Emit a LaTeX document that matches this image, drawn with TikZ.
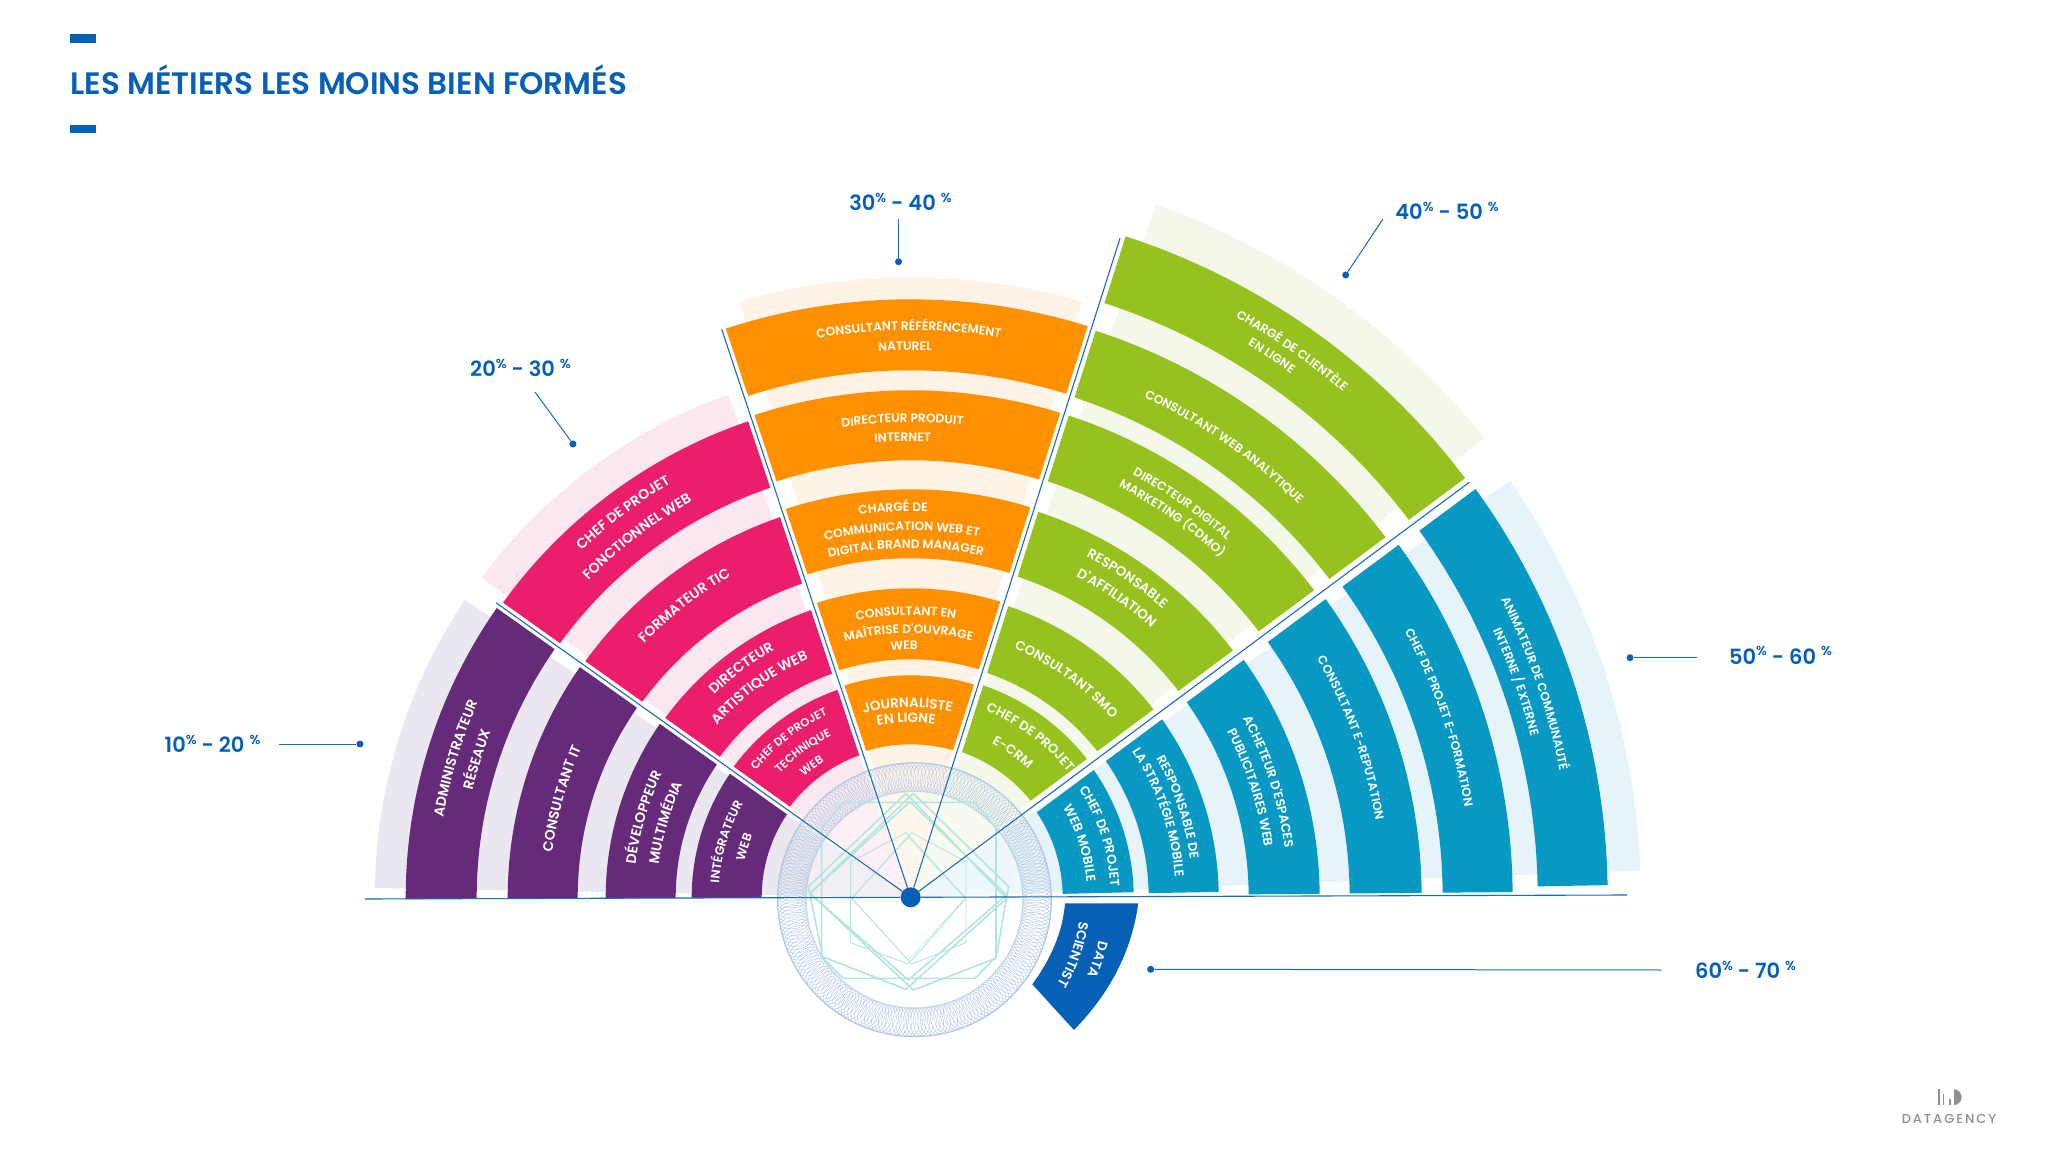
\documentclass[tikz,border=0pt]{standalone}
\usepackage{fontspec}
\usetikzlibrary{decorations.text}
\setmainfont{Poppins}
\newfontfamily\lab{Poppins SemiBold}
\newfontfamily\ttl{Poppins SemiBold}
\newfontfamily\pctf{Poppins SemiBold}
\newfontfamily\logof{Poppins Medium}[LetterSpace=15]
\definecolor{cpur}{HTML}{662A7B}
\definecolor{cpin}{HTML}{EA1E6B}
\definecolor{cora}{HTML}{FF9000}
\definecolor{cgre}{HTML}{96C11F}
\definecolor{ctea}{HTML}{0799C4}
\definecolor{cdee}{HTML}{0760B5}
\definecolor{clin}{HTML}{1A6CB4}
\definecolor{lpur}{HTML}{EBE7F0}
\definecolor{lpin}{HTML}{FBE7F0}
\definecolor{lora}{HTML}{FEF3E6}
\definecolor{lgre}{HTML}{F4F8EA}
\definecolor{ltea}{HTML}{E6F4FA}
\definecolor{cgui}{HTML}{A9C3E2}
\definecolor{cpol}{HTML}{B2E6DD}
\definecolor{clog}{HTML}{8E8E93}
\tikzset{
  raylin/.style={draw=clin,line width=1.1pt},
  leader/.style={draw=clin,line width=1pt},
  dotnode/.style={circle,fill=cdee,inner sep=0pt,minimum size=7pt},
  pctnode/.style={inner sep=0pt,text=cdee,font=\pctf\fontsize{21}{21}\selectfont},
  polyA/.style={draw=cpol,line width=1.6pt,line join=round},
  polyB/.style={draw=cpol,line width=.9pt,line join=round},
}
% annular sector: colour, inner r, outer r, high angle, low angle, offset high, offset low
\newcommand\seg[7]{%
  \pgfmathsetmacro\ohi{#4-asin(#6/#3)}\pgfmathsetmacro\ihi{#4-asin(#6/#2)}%
  \pgfmathsetmacro\olo{#5+asin(#7/#3)}\pgfmathsetmacro\ilo{#5+asin(#7/#2)}%
  \fill[#1] (\ohi:#3) arc[start angle=\ohi,end angle=\olo,radius=#3] -- (\ilo:#2) arc[start angle=\ilo,end angle=\ihi,radius=#2] -- cycle;}
\newcommand\wedgef[4]{\fill[#1] (0,0) -- (#2:#4) arc[start angle=#2,end angle=#3,radius=#4] -- cycle;}
\newcommand\curv[4]{\path[decorate,decoration={text along path,text align=center,text={|\lab\fontsize{#3}{#3}\selectfont\color{white}|#4}}] ({#1+60}:#2) arc[start angle=#1+60,end angle=#1-60,radius=#2];}
\newcommand\pcts[2]{#1\raisebox{.75ex}{\fontsize{13}{13}\selectfont\%} - #2 \raisebox{.75ex}{\fontsize{13}{13}\selectfont\%}}
\begin{document}
\begin{tikzpicture}[x=1pt,y=1pt]
\useasboundingbox (-910.7,-254.7) rectangle (1137.3,897.3);
\fill[white] (-910.7,-254.7) rectangle (1137.3,897.3);
% title
\fill[cdee] (-840.2,854.6) rectangle (-814.7,863);
\fill[cdee] (-840.2,764) rectangle (-814.7,772.6);
\node[inner sep=0pt,anchor=base west,text=cdee,font=\ttl\fontsize{31}{31}\selectfont] (title) at (-840.2,802.3) {LES MÉTIERS LES MOINS BIEN FORMÉS};
% pastel wedges
\wedgef{lpur}{146.3}{179}{536}
\wedgef{lpin}{110}{143.3}{535}
\wedgef{lora}{74}{106}{620}
\wedgef{lgre}{38.7}{70.5}{735}
\wedgef{ltea}{2.1}{34.8}{730}
\fill[white,opacity=.35] (3.8,-2.4) circle (108);
% purple
\seg{cpur}{149}{219}{180.2}{144.6}{0}{4}
\seg{cpur}{235}{305}{180.2}{144.6}{0}{4}
\seg{cpur}{333}{403}{180.2}{144.6}{0}{4}
\seg{cpur}{434}{505}{180.2}{144.6}{0}{4}
% pink
\seg{cpin}{151}{220}{144.6}{108.4}{4}{4}
\seg{cpin}{237}{304}{144.6}{108.4}{4}{4}
\seg{cpin}{332}{402}{144.6}{108.4}{4}{4}
\seg{cpin}{433}{503}{144.6}{108.4}{4}{4}
% orange
\seg{cora}{153}{222}{108.4}{72.4}{4}{4}
\seg{cora}{238}{309}{108.4}{72.4}{4}{4}
\seg{cora}{339}{408}{108.4}{72.4}{4}{4}
\seg{cora}{437}{507}{108.4}{72.4}{4}{4}
\seg{cora}{527}{598}{108.4}{72.4}{4}{4}
% green
\seg{cgre}{154}{224}{72.4}{36.6}{5}{6}
\seg{cgre}{237}{307}{72.4}{36.6}{5}{6}
\seg{cgre}{338}{406}{72.4}{36.6}{5}{6}
\seg{cgre}{438}{507}{72.4}{36.6}{5}{6}
\seg{cgre}{526}{596}{72.4}{36.6}{5}{6}
\seg{cgre}{625}{695}{72.4}{36.6}{5}{6}
% teal
\seg{ctea}{152}{223}{36.6}{1.3}{7}{0}
\seg{ctea}{238}{308}{36.6}{1}{7}{0}
\seg{ctea}{338}{409}{36.6}{.5}{8}{0}
\seg{ctea}{439}{511}{36.6}{.5}{8}{0}
\seg{ctea}{532}{602}{36.6}{.5}{8}{0}
\seg{ctea}{627}{697}{36.6}{1}{9}{0}
% data scientist
\fill[cdee] (154.3,-6) -- (227.6,-6) .. controls (220,-60) and (195,-100) .. (163.3,-132.7) -- (121.6,-87) .. controls (140,-62) and (152,-35) .. (154.3,-6) -- cycle;
% guilloche
\begin{scope}[shift={(3.8,-2.4)}]
\foreach \i in {1,...,220}{\pgfmathsetmacro\ga{\i*1.63636}\draw[cgui,line width=.35pt,shift={(\ga:122.5)},rotate=\ga] (0,0) ellipse [x radius=14.5,y radius=8];}
\draw[cgui,line width=.8pt] (0,0) circle (137);
\draw[cgui!60,line width=.4pt] (0,0) circle (108);
\end{scope}
% polygons, in 1/3 px
\begin{scope}[shift={(-130.7,137.3)},x=.33333pt,y=-.33333pt]
\draw[polyA] (190,127)--(585,127)--(648,205)--(648,590)--(585,655)--(190,655)--(125,590)--(125,205)--cycle;
\draw[polyA] (390,125)--(90,400)--(385,660)--(680,405)--cycle;
\draw[polyA] (378,100)--(85,380)--(128,590)--(378,688)--(680,415)--cycle;
\draw[polyA] (400,100)--(686,380)--(648,595)--(400,690)--(90,400)--cycle;
\draw[polyB] (378,218)--(212,305)--(212,548)--(385,612)--(558,415)--cycle;
\draw[polyB] (395,218)--(558,305)--(558,548)--(395,612)--(215,415)--cycle;
\draw[polyB,line width=.5pt] (385,232)--(215,415)--(385,600)--(555,415)--cycle;
\end{scope}
% rays
\node[circle,fill=cdee,inner sep=0pt,minimum size=20pt] (hub) at (0,0) {};
\coordinate (r0) at (-545.7,-1.7);
\coordinate (r1) at (-414.7,294.6);
\coordinate (r2) at (-189,568);
\coordinate (r3) at (209.3,659);
\coordinate (r4) at (558.6,415);
\coordinate (r5) at (716.3,2.3);
\foreach \e in {r0,r1,r2,r3,r4,r5}{\draw[raylin] (hub) -- (\e);}
% purple labels
\curv{163}{474}{14}{ADMINISTRATEUR}
\curv{162.4}{451}{14}{RÉSEAUX}
\curv{164.2}{361}{14}{CONSULTANT IT}
\curv{163.4}{277}{14}{DÉVELOPPEUR}
\curv{163.1}{254}{14}{MULTIMÉDIA}
\curv{163.3}{192}{12.5}{INTÉGRATEUR}
\curv{163.3}{170}{12.5}{WEB}
% pink labels
\curv{126.8}{478}{14}{CHEF DE PROJET}
\curv{127.2}{452}{14}{FONCTIONNEL WEB}
\curv{127.8}{368}{14}{FORMATEUR TIC}
\curv{126.5}{282}{14}{DIRECTEUR}
\curv{125.8}{259}{14}{ARTISTIQUE WEB}
\curv{127.6}{200}{11.5}{CHEF DE PROJET}
\curv{126.4}{180}{11.5}{TECHNIQUE}
\curv{127}{161}{11.5}{WEB}
% orange labels
\curv{90.2}{567}{12.2}{CONSULTANT RÉFÉRENCEMENT}
\curv{90.6}{547}{12.2}{NATUREL}
\curv{91}{475}{12.2}{DIRECTEUR PRODUIT}
\curv{91}{456}{12.2}{INTERNET}
\curv{92.6}{386}{12.2}{CHARGÉ DE}
\curv{91.4}{367}{12.2}{COMMUNICATION WEB ET}
\curv{90.8}{349}{12.2}{DIGITAL BRAND MANAGER}
\curv{91}{282}{12.2}{CONSULTANT EN}
\curv{90.5}{264}{12.2}{MAÎTRISE D'OUVRAGE}
\curv{91.5}{248}{12.2}{WEB}
\curv{91}{190}{13.5}{JOURNALISTE}
\curv{91.5}{175}{13.5}{EN LIGNE}
% green labels
\curv{55.1}{665}{12.2}{CHARGÉ DE CLIENTÈLE}
\curv{56.3}{647}{12.2}{EN LIGNE}
\curv{55.2}{552}{12.2}{CONSULTANT WEB ANALYTIQUE}
\curv{55.4}{477}{12.2}{DIRECTEUR DIGITAL}
\curv{55.4}{460}{12.2}{MARKETING (CDMO)}
\curv{55.8}{383}{13.5}{RESPONSABLE}
\curv{55.5}{361}{13.5}{D'AFFILIATION}
\curv{54.5}{269}{13.2}{CONSULTANT SMO}
\curv{53.3}{201}{13}{CHEF DE PROJET}
\curv{54.9}{174}{13}{E-CRM}
% teal labels
\curv{18.9}{661}{12.2}{ANIMATEUR DE COMMUNAUTÉ}
\curv{19.6}{640.5}{12.2}{INTERNE / EXTERNE}
\curv{18.8}{561}{12.2}{CHEF DE PROJET E-FORMATION}
\curv{19.9}{471}{12.2}{CONSULTANT E-REPUTATION}
\curv{17.9}{377}{12.8}{ACHETEUR D'ESPACES}
\curv{17.9}{357}{12.8}{PUBLICITAIRES WEB}
\curv{18.6}{282}{12.8}{RESPONSABLE DE}
\curv{18.9}{265}{12.8}{LA STRATÉGIE MOBILE}
\curv{17.9}{200}{13}{CHEF DE PROJET}
\curv{17.7}{176.5}{13}{WEB MOBILE}
\curv{-18.5}{193}{13.5}{DATA}
\curv{-19.3}{170}{13.5}{SCIENTIST}
% callouts
\node[pctnode] (p1) at (-698.2,153.3) {\pcts{10}{20}};
\coordinate (c1) at (-631.7,153.3);
\node[dotnode] (d1) at (-550.7,153.3) {};
\draw[leader] (c1) -- (d1);
\node[pctnode] (p2) at (-390.2,529.3) {\pcts{20}{30}};
\coordinate (c2) at (-375.7,505.3);
\node[dotnode] (d2) at (-337.7,453.3) {};
\draw[leader] (c2) -- (d2);
\node[pctnode] (p3) at (-10.2,695.3) {\pcts{30}{40}};
\coordinate (c3) at (-12.2,678.3);
\node[dotnode] (d3) at (-12.2,635.6) {};
\draw[leader] (c3) -- (d3);
\node[pctnode] (p4) at (536.3,686.3) {\pcts{40}{50}};
\coordinate (c4) at (472.3,678.3);
\node[dotnode] (d4) at (435,622.3) {};
\draw[leader] (c4) -- (d4);
\node[pctnode] (p5) at (869.8,241.6) {\pcts{50}{60}};
\coordinate (c5) at (786.3,239.6);
\node[dotnode] (d5) at (719.3,239.6) {};
\draw[leader] (c5) -- (d5);
\node[pctnode] (p6) at (834.8,-72.7) {\pcts{60}{70}};
\coordinate (c6) at (751,-72.7);
\node[dotnode] (d6) at (240,-72) {};
\draw[leader] (c6) -- (d6);
% logo
\begin{scope}[shift={(969.3,-172.7)},x=.33333pt,y=-.33333pt]
\fill[clog] (175,58) rectangle (181,105);
\fill[clog] (188,72) rectangle (193,105);
\fill[clog] (207,88) rectangle (212,105);
\fill[clog] (222,58) arc[start angle=-90,end angle=90,x radius=23,y radius=23.5] -- cycle;
\end{scope}
\node[inner sep=0pt,anchor=base,text=clog,font=\logof\fontsize{13}{13}\selectfont] (logo) at (1038.3,-225.7) {DATAGENCY};
\end{tikzpicture}
\end{document}
